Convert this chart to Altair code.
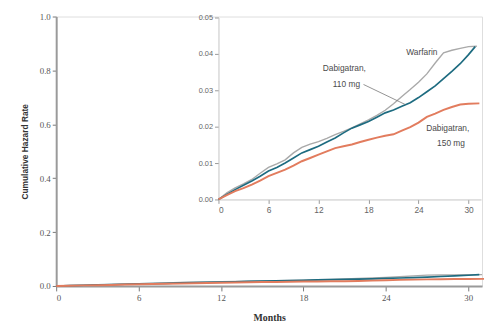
import altair as alt
import pandas as pd

# ---- data ----
months = list(range(0, 32))
warfarin = [0.0, 0.0018, 0.0032, 0.0043, 0.0055, 0.0072, 0.0088, 0.0098, 0.0109, 0.0128,
            0.0143, 0.0152, 0.0159, 0.0168, 0.0178, 0.0187, 0.0197, 0.0208, 0.0219, 0.0231,
            0.0245, 0.0263, 0.0283, 0.0302, 0.0322, 0.0345, 0.0375, 0.0403, 0.0410, 0.0415,
            0.0420, 0.0421]
dabi110_months = list(range(0, 31)) + [30.8]
dabi110 = [0.0, 0.0014, 0.0027, 0.0039, 0.0051, 0.0064, 0.0078, 0.0088, 0.0100, 0.0114,
           0.0128, 0.0137, 0.0146, 0.0158, 0.0169, 0.0183, 0.0196, 0.0205, 0.0214, 0.0226,
           0.0238, 0.0246, 0.0256, 0.0266, 0.0280, 0.0296, 0.0312, 0.0332, 0.0352, 0.0373,
           0.0398, 0.0420]
dabi150_months = list(range(0, 31)) + [31.3]
dabi150 = [0.0, 0.0012, 0.0023, 0.0031, 0.0041, 0.0052, 0.0064, 0.0073, 0.0082, 0.0093,
           0.0105, 0.0114, 0.0123, 0.0132, 0.0141, 0.0146, 0.0151, 0.0158, 0.0164, 0.0170,
           0.0175, 0.0179, 0.0189, 0.0199, 0.0211, 0.0227, 0.0236, 0.0246, 0.0254, 0.0261,
           0.0263, 0.0264]

series_names = ["Warfarin", "Dabigatran, 110 mg", "Dabigatran, 150 mg"]
series_colors = ["#a9a9a9", "#1d6b80", "#e27c5e"]

main_x_ticks = [0, 6, 12, 18, 24, 30]
main_y_ticks = [0.0, 0.2, 0.4, 0.6, 0.8, 1.0]
inset_y_ticks = [0.0, 0.01, 0.02, 0.03, 0.04, 0.05]

label_text = ["Warfarin", "Dabigatran,", "110 mg", "Dabigatran,", "150 mg"]
label_month = [24.4, 15.1, 15.35, 27.5, 27.9]
label_value = [0.0405, 0.0362, 0.0316, 0.0197, 0.0154]

pointer_month = [17.4, 22.4]
pointer_value = [0.0316, 0.0261]

# ---- tables ----
rows = []
for m, v in zip(months, warfarin):
    rows.append({"month": m, "value": v, "series": series_names[0]})
for m, v in zip(dabi110_months, dabi110):
    rows.append({"month": m, "value": v, "series": series_names[1]})
for m, v in zip(dabi150_months, dabi150):
    rows.append({"month": m, "value": v, "series": series_names[2]})
df = pd.DataFrame(rows)
labels_df = pd.DataFrame({"text": label_text, "month": label_month, "value": label_value})
pointer_df = pd.DataFrame({"month": pointer_month, "value": pointer_value})

color = alt.Color("series:N", scale=alt.Scale(domain=series_names, range=series_colors), legend=None)
width_enc = alt.StrokeWidth("series:N", scale=alt.Scale(domain=series_names, range=[1.4, 2.0, 1.4]), legend=None)

W, H = 433, 274

main = alt.Chart(df).mark_line().encode(
    x=alt.X("month:Q", scale=alt.Scale(domain=[0, 31], nice=False, zero=False),
            axis=alt.Axis(values=main_x_ticks, title="Months", grid=False,
                          domainColor="#9a9a9a", domainWidth=2, tickColor="#777", tickSize=5,
                          labelFont="Liberation Serif", labelFontSize=9, labelColor="#555",
                          titleFont="Liberation Serif", titleFontSize=10, titleFontWeight="bold",
                          titleColor="#333", titlePadding=10, labelPadding=3)),
    y=alt.Y("value:Q", scale=alt.Scale(domain=[0, 1], nice=False),
            axis=alt.Axis(values=main_y_ticks, format=".1f", title="Cumulative Hazard Rate", grid=False,
                          domainColor="#9a9a9a", domainWidth=2, tickColor="#777", tickSize=4,
                          labelFont="Liberation Serif", labelFontSize=9, labelColor="#555",
                          titleFont="Liberation Sans", titleFontSize=8.5, titleFontWeight="bold",
                          titleColor="#333", titlePadding=10, labelPadding=2)),
    color=color,
    strokeWidth=width_enc,
)

ix = alt.Scale(domain=[0, 31.5], range=[165, 432], nice=False, zero=False)
iy = alt.Scale(domain=[0, 0.05], range=[186, 1], nice=False)

inset_x = alt.X("month:Q", scale=ix,
                axis=alt.Axis(orient="bottom", offset=-88, values=main_x_ticks, title=None, grid=False,
                              domainColor="#c4c4c4", tickColor="#999", tickSize=4,
                              labelFont="Liberation Sans", labelFontSize=8.5, labelColor="#666",
                              labelPadding=2))
inset_y = alt.Y("value:Q", scale=iy,
                axis=alt.Axis(orient="left", offset=-165, values=inset_y_ticks, format=".2f", title=None,
                              grid=False, domainColor="#c4c4c4", tickColor="#999", tickSize=4,
                              labelFont="Liberation Sans", labelFontSize=7.5, labelColor="#666",
                              labelPadding=2))

inset_lines = alt.Chart(df).mark_line().encode(
    x=inset_x, y=inset_y, color=color, strokeWidth=width_enc,
)

inset_text = alt.Chart(labels_df).mark_text(font="Liberation Sans", fontSize=8.5, color="#4a4a4a").encode(
    x=inset_x, y=inset_y, text="text:N",
)

inset_pointer = alt.Chart(pointer_df).mark_line(color="#777", strokeWidth=0.8).encode(
    x=inset_x, y=inset_y,
)

inset = alt.layer(inset_lines, inset_pointer, inset_text)

chart = alt.layer(main, inset).resolve_scale(
    x="independent", y="independent"
).resolve_axis(x="independent", y="independent").properties(
    width=W, height=H,
    autosize=alt.AutoSizeParams(type="none"),
    padding={"left": 49, "top": 6, "right": 2, "bottom": 38},
).configure_view(stroke=None).configure(background="white")

chart.save("out.html", embed_options={"renderer": "svg", "actions": False})
